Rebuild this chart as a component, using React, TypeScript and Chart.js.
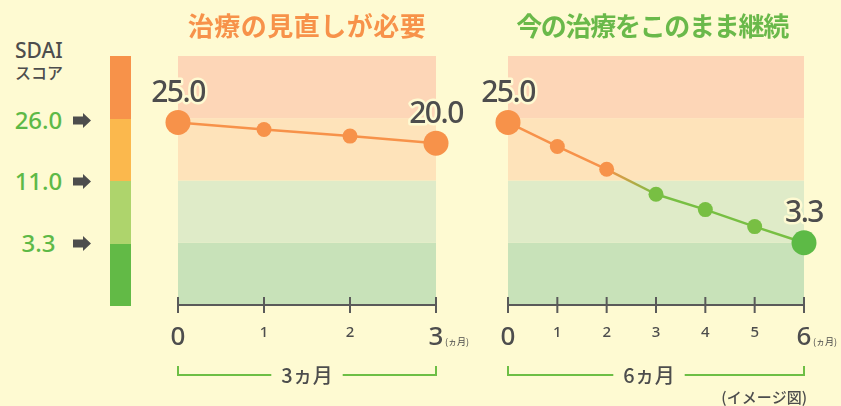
import React, { useEffect, useRef } from "react";
import { Chart, registerables } from "chart.js";
Chart.register(...registerables);

// ---------- data ----------
const MONTHS_A = [0, 1, 2, 3];
const SDAI_A = [25.0, 23.3, 21.7, 20.0];
const MONTHS_B = [0, 1, 2, 3, 4, 5, 6];
const SDAI_B = [25.0, 19.2, 13.7, 9.3, 7.4, 5.3, 3.3];
const THRESHOLDS = ["26.0", "11.0", "3.3"];
const THRESHOLD_VALUES = [3.3, 11.0, 26.0];
const TITLE_A = "治療の見直しが必要";
const TITLE_B = "今の治療をこのまま継続";
const SPAN_A = "3ヵ月";
const SPAN_B = "6ヵ月";
const UNIT = "(ヵ月)";
const NOTE = "(イメージ図)";
const LEGEND_TITLE = ["SDAI", "スコア"];

// ---------- styles ----------
const BG = "#FEFAD2";
const BAND_FILLS = ["#C8E2B9", "#DFEBC8", "#FEE3BA", "#FDD6B7"]; // bottom -> top
const BAR_FILLS = ["#62BA46", "#AED46C", "#FBB84D", "#F7924A"]; // bottom -> top
const ORANGE = "#F7924A";
const GREEN = "#78BF43";
const GREEN_END = "#5DBA46";
const TITLE_GREEN = "#6AB94A";
const TEXT = "#4D4D4D";
const FONT_JP = "'Noto Sans CJK JP', 'Noto Sans', sans-serif";
const FONT_NUM = "'Noto Sans', 'DejaVu Sans', sans-serif";

// SDAI value -> position on the band scale (each band equally tall)
function toPos(v: number): number {
  const [a, b, c] = THRESHOLD_VALUES;
  if (v <= a) return v / a;
  if (v <= b) return 1 + (v - a) / (b - a);
  if (v <= c) return 2 + (v - b) / (c - b);
  return 3 + (v - c) / 24;
}

type PanelCfg = {
  id: string;
  left: number;
  width: number;
  padLeft: number;
  padRight: number;
  months: number[];
  sdai: number[];
  title: string;
  titleColor: string;
  titleShift: number;
  titleSpacing: number;
  span: string;
  spanShift: number;
  pointColors: string[];
  switchAt: number | null;
  note?: string;
};

function makePlugin(cfg: PanelCfg) {
  return {
    id: "panel_" + cfg.id,
    beforeDatasetsDraw(chart: any) {
      const { ctx, chartArea: a, scales } = chart;
      const y = scales.y;
      ctx.save();
      for (let b = 0; b < 4; b++) {
        const top = y.getPixelForValue(b + 1);
        const bot = y.getPixelForValue(b);
        ctx.fillStyle = BAND_FILLS[b];
        ctx.fillRect(a.left, top, a.right - a.left, bot - top);
      }
      ctx.restore();
    },
    afterDatasetsDraw(chart: any) {
      const { ctx } = chart;
      const meta = chart.getDatasetMeta(0);
      const n = cfg.sdai.length;
      ctx.save();
      ctx.font = `500 30px ${FONT_NUM}`;
      (ctx as any).letterSpacing = "-1.5px";
      ctx.textAlign = "center";
      ctx.textBaseline = "middle";
      ctx.lineJoin = "round";
      [0, n - 1].forEach((i) => {
        const p = meta.data[i];
        const txt = cfg.sdai[i].toFixed(1);
        ctx.strokeStyle = BG;
        ctx.lineWidth = 5;
        ctx.strokeText(txt, p.x, p.y - 29);
        ctx.fillStyle = TEXT;
        ctx.fillText(txt, p.x, p.y - 29);
      });
      ctx.restore();
    },
    afterDraw(chart: any) {
      const { ctx, chartArea: a, scales } = chart;
      const x = scales.x;
      const y0 = a.bottom;
      const n = cfg.months.length;
      ctx.save();
      // axis line + ticks
      ctx.strokeStyle = "#5A5A5A";
      ctx.lineWidth = 2;
      ctx.beginPath();
      ctx.moveTo(a.left, y0);
      ctx.lineTo(a.right, y0);
      cfg.months.forEach((m) => {
        const px = x.getPixelForValue(m);
        ctx.moveTo(px, y0 - 8);
        ctx.lineTo(px, y0 + 8);
      });
      ctx.stroke();
      // tick labels
      ctx.fillStyle = TEXT;
      ctx.textAlign = "center";
      ctx.textBaseline = "middle";
      cfg.months.forEach((m, i) => {
        const px = x.getPixelForValue(m);
        const big = i === 0 || i === n - 1;
        ctx.font = big ? `500 26px ${FONT_NUM}` : `500 15px ${FONT_NUM}`;
        ctx.fillText(String(m), px, big ? y0 + 33 : y0 + 28);
      });
      const lastX = x.getPixelForValue(cfg.months[n - 1]);
      ctx.font = `9px ${FONT_JP}`;
      ctx.textAlign = "left";
      ctx.fillText(UNIT, lastX + 9, y0 + 37);
      // bracket
      const by = y0 + 70;
      const cx = (a.left + a.right) / 2 + cfg.spanShift;
      ctx.font = `500 20px ${FONT_JP}`;
      const tw = ctx.measureText(cfg.span).width;
      const gap = tw / 2 + 10;
      ctx.strokeStyle = "#6DBE45";
      ctx.lineWidth = 2;
      ctx.beginPath();
      ctx.moveTo(a.left, by - 9);
      ctx.lineTo(a.left, by);
      ctx.lineTo(cx - gap, by);
      ctx.moveTo(cx + gap, by);
      ctx.lineTo(a.right, by);
      ctx.lineTo(a.right, by - 9);
      ctx.stroke();
      ctx.textAlign = "center";
      ctx.fillStyle = TEXT;
      ctx.fillText(cfg.span, cx, by);
      // title
      ctx.font = `bold 26px ${FONT_JP}`;
      (ctx as any).letterSpacing = cfg.titleSpacing + "px";
      ctx.fillStyle = cfg.titleColor;
      ctx.fillText(cfg.title, (a.left + a.right) / 2 + cfg.titleShift, 26);
      (ctx as any).letterSpacing = "0px";
      // note
      if (cfg.note) {
        ctx.font = `500 15px ${FONT_JP}`;
        ctx.fillStyle = TEXT;
        ctx.textAlign = "right";
        ctx.fillText(cfg.note, a.right + 3, 397);
      }
      ctx.restore();
    },
  };
}

function Panel({ cfg }: { cfg: PanelCfg }) {
  const ref = useRef<HTMLCanvasElement>(null);
  useEffect(() => {
    const n = cfg.sdai.length;
    const radii = cfg.sdai.map((_, i) => (i === 0 || i === n - 1 ? 12.5 : 7.5));
    const chart = new Chart(ref.current as HTMLCanvasElement, {
      type: "line",
      data: {
        datasets: [
          {
            data: cfg.months.map((m, i) => ({ x: m, y: toPos(cfg.sdai[i]) })),
            borderColor: ORANGE,
            borderWidth: 2.5,
            tension: 0,
            pointRadius: radii,
            pointHoverRadius: radii,
            pointBackgroundColor: cfg.pointColors,
            pointBorderWidth: 0,
            clip: false as any,
            segment: {
              borderColor: (c: any) => {
                const i = c.p0DataIndex;
                if (cfg.switchAt === null || i < cfg.switchAt) return ORANGE;
                if (i > cfg.switchAt) return GREEN;
                const g = c.chart.ctx.createLinearGradient(c.p0.x, 0, c.p1.x, 0);
                g.addColorStop(0, ORANGE);
                g.addColorStop(1, GREEN);
                return g;
              },
            },
          } as any,
        ],
      },
      options: {
        animation: false,
        responsive: false,
        devicePixelRatio: 1,
        events: [],
        layout: { padding: { left: cfg.padLeft, right: cfg.padRight, top: 56, bottom: 101 } },
        plugins: { legend: { display: false }, tooltip: { enabled: false }, title: { display: false } },
        scales: {
          x: { type: "linear", min: cfg.months[0], max: cfg.months[n - 1], display: false },
          y: { type: "linear", min: 0, max: 4, display: false },
        },
      },
      plugins: [makePlugin(cfg)],
    });
    return () => chart.destroy();
  }, []);
  return (
    <canvas
      ref={ref}
      width={cfg.width}
      height={406}
      style={{ position: "absolute", left: cfg.left, top: 0, width: cfg.width, height: 406, display: "block" }}
    />
  );
}

const PANEL_A: PanelCfg = {
  id: "a",
  left: 140,
  width: 340,
  padLeft: 38,
  padRight: 44,
  months: MONTHS_A,
  sdai: SDAI_A,
  title: TITLE_A,
  titleColor: ORANGE,
  titleShift: 0,
  titleSpacing: 0.5,
  span: SPAN_A,
  spanShift: 0,
  pointColors: SDAI_A.map(() => ORANGE),
  switchAt: null,
};

const PANEL_B: PanelCfg = {
  id: "b",
  left: 480,
  width: 361,
  padLeft: 28,
  padRight: 37,
  months: MONTHS_B,
  sdai: SDAI_B,
  title: TITLE_B,
  titleColor: TITLE_GREEN,
  titleShift: -4,
  titleSpacing: -1.3,
  span: SPAN_B,
  spanShift: -7,
  pointColors: SDAI_B.map((_, i) => (i < 3 ? ORANGE : i === SDAI_B.length - 1 ? GREEN_END : GREEN)),
  switchAt: 2,
  note: NOTE,
};

function Arrow({ cy }: { cy: number }) {
  return (
    <svg width={18} height={15} style={{ position: "absolute", left: 73, top: cy - 7.5 }} viewBox="0 0 18 15">
      <polygon points="0,3.5 10,3.5 10,0 18,7.5 10,15 10,11.5 0,11.5" fill={TEXT} />
    </svg>
  );
}

function Legend() {
  const ys = [120, 181, 243];
  return (
    <>
      <div style={{ position: "absolute", left: 15, top: 36, height: 28, lineHeight: "28px", fontFamily: FONT_NUM, fontSize: 21, fontWeight: 500, color: TEXT }}>
        {LEGEND_TITLE[0]}
      </div>
      <div style={{ position: "absolute", left: 15, top: 61, height: 22, lineHeight: "22px", fontFamily: FONT_JP, fontSize: 16, fontWeight: 500, color: TEXT }}>
        {LEGEND_TITLE[1]}
      </div>
      {THRESHOLDS.map((t, i) => (
        <React.Fragment key={t}>
          <div
            style={{
              position: "absolute",
              left: 0,
              width: 77,
              textAlign: "center",
              top: ys[i] - 16,
              height: 32,
              lineHeight: "32px",
              fontFamily: FONT_NUM,
              fontSize: 24,
              fontWeight: 500,
              color: "#5DB947",
            }}
          >
            {t}
          </div>
          <Arrow cy={ys[i]} />
        </React.Fragment>
      ))}
      {BAR_FILLS.map((c, i) => (
        <div key={c} style={{ position: "absolute", left: 110, width: 21, top: 56 + (3 - i) * 62.5, height: 62.5, background: c }} />
      ))}
    </>
  );
}

export default function App() {
  useEffect(() => {
    document.body.style.margin = "0";
    document.body.style.background = BG;
  }, []);
  return (
    <div style={{ position: "fixed", left: 0, top: 0, width: 841, height: 406, background: BG, overflow: "hidden" }}>
      <Legend />
      <Panel cfg={PANEL_A} />
      <Panel cfg={PANEL_B} />
    </div>
  );
}
